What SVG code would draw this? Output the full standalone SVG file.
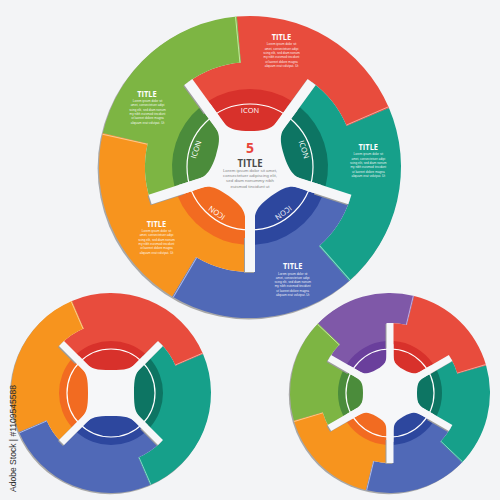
<svg xmlns="http://www.w3.org/2000/svg" xmlns:xlink="http://www.w3.org/1999/xlink" width="500" height="500" viewBox="0 0 500 500">
<defs>
<style>
.bg{fill:#f3f4f6}
.sh{fill:#a8a8a8}
.cd{fill:#f6f7f9}
.red{fill:#e84c3d}.redD{fill:#d8312b}.redL{stroke:#f5a59c}
.teal{fill:#16a08a}.tealD{fill:#0d7563}.tealL{stroke:#86d8c8}
.blue{fill:#5069b7}.blueD{fill:#2d479e}.blueL{stroke:#aebbe8}
.orange{fill:#f7941e}.orangeD{fill:#f26b21}.orangeL{stroke:#fcc88e}
.green{fill:#7db543}.greenD{fill:#4b8c3b}.greenL{stroke:#c6e79e}
.purple{fill:#7f58a8}.purpleD{fill:#6a3f9c}.purpleL{stroke:#c5acdf}
.hl{stroke-width:1;fill:none}
.ring{fill:none;stroke:#ffffff;stroke-width:1.2}
.sp{fill:#f6f7f9}
.sps{fill:#9c9c9c}
.icon{font-family:"Open Sans","Liberation Sans",sans-serif;font-size:7.5px;fill:#ffffff;text-anchor:middle;dominant-baseline:central}
.tt{font-family:"Open Sans","Liberation Sans",sans-serif;font-weight:bold;font-size:9px;fill:#ffffff;text-anchor:middle}
.lo{font-family:"Liberation Sans","Open Sans",sans-serif;font-size:3.1px;fill:#ffffff;fill-opacity:0.9;text-anchor:middle}
.c5{font-family:"Open Sans","Liberation Sans",sans-serif;font-weight:bold;font-size:14px;fill:#e8463a;text-anchor:middle}
.ct{font-family:"Open Sans","Liberation Sans",sans-serif;font-weight:bold;font-size:10.5px;fill:#4a4a4a;text-anchor:middle}
.cl{font-family:"Liberation Sans","Open Sans",sans-serif;font-size:4.4px;fill:#8a8a8a;text-anchor:middle}
.wm{font-family:"Liberation Sans","Open Sans",sans-serif;font-size:8.5px;fill:#2e2e2e}
</style>
<path id="segB" d="M84.95,-61.72 A105,105 0 0 1 104.60,-9.15 L150.42,-13.16 A151,151 0 0 1 59.00,139.00 L41.03,96.65 A105,105 0 0 0 84.95,61.72 L59.87,43.50 A74,74 0 0 0 59.87,-43.50 Z"/>
<path id="petB" d="M65.91,-41.72 L56.33,-34.76 C43.39,-25.35 36,-25 36,0 C36,25 43.39,25.35 56.33,34.76 L65.91,41.72 A78,78 0 0 0 65.91,-41.72 Z"/>
<line id="hlB" x1="41.87" y1="96.29" x2="60.21" y2="138.48"/>
<path id="seg4" d="M49.5,-49.5 A70,70 0 0 1 64.44,-27.35 L92.05,-39.07 A100,100 0 0 1 39.07,92.05 L27.35,64.44 A70,70 0 0 0 49.5,49.5 L34.65,34.65 A49,49 0 0 0 34.65,-34.65 Z"/>
<path id="pet4" d="M39.17,-34.22 L29.34,-24.39 C24.39,-19.44 23,-15 23,0 C23,15 24.39,19.44 29.34,24.39 L39.17,34.22 A52,52 0 0 0 39.17,-34.22 Z"/>
<line id="hl4" x1="27.92" y1="64.19" x2="39.88" y2="91.71"/>
<path id="seg6" d="M60.62,-35 A70,70 0 0 1 67.29,-19.29 L96.13,-27.56 A100,100 0 0 1 71.93,69.47 L50.35,48.63 A70,70 0 0 0 60.62,35 L42.44,24.5 A49,49 0 0 0 42.44,-24.5 Z"/>
<path id="pet6" d="M46.70,-22.92 L36.39,-16.97 C29.46,-12.97 27,-11 27,0 C27,11 29.46,12.97 36.39,16.97 L46.70,22.92 A52,52 0 0 0 46.70,-22.92 Z"/>
<line id="hl6" x1="50.78" y1="48.18" x2="72.54" y2="68.84"/>
</defs>

<rect class="bg" x="0" y="0" width="500" height="500"/>

<!-- ============ BIG WHEEL (5) ============ -->
<g id="wheel-5">
<circle class="sh" cx="248.8" cy="168.3" r="151.2"/>
<circle class="cd" cx="250" cy="167" r="106"/>

<g id="big-red">
<g transform="translate(250,167) rotate(-90)">
<use xlink:href="#segB" class="red"/>
<use xlink:href="#petB" class="redD"/>
<use xlink:href="#hlB" class="hl redL"/>
<text class="icon" transform="translate(57,0) rotate(90)">ICON</text>
</g>
<text class="tt" x="281.5" y="40" textLength="19.5" lengthAdjust="spacingAndGlyphs">TITLE</text>
<text class="lo" x="281.5" y="45.3">Lorem ipsum dolor sit</text>
<text class="lo" x="281.5" y="49.6">amet, consectetuer adipi</text>
<text class="lo" x="281.5" y="54">scing elit, sed diam nonum</text>
<text class="lo" x="281.5" y="58.3">my nibh euismod tincidunt</text>
<text class="lo" x="281.5" y="62.7">ut laoreet dolore magna</text>
<text class="lo" x="281.5" y="67">aliquam erat volutpat. Ut</text>
</g>

<g id="big-teal">
<g transform="translate(250,167) rotate(-18)">
<use xlink:href="#segB" class="teal"/>
<use xlink:href="#petB" class="tealD"/>
<use xlink:href="#hlB" class="hl tealL"/>
<text class="icon" transform="translate(57,0) rotate(90)">ICON</text>
</g>
<text class="tt" x="368.3" y="150" textLength="19.5" lengthAdjust="spacingAndGlyphs">TITLE</text>
<text class="lo" x="368.3" y="155.2">Lorem ipsum dolor sit</text>
<text class="lo" x="368.3" y="159.5">amet, consectetuer adipi</text>
<text class="lo" x="368.3" y="163.9">scing elit, sed diam nonum</text>
<text class="lo" x="368.3" y="168.2">my nibh euismod tincidunt</text>
<text class="lo" x="368.3" y="172.6">ut laoreet dolore magna</text>
<text class="lo" x="368.3" y="176.9">aliquam erat volutpat. Ut</text>
</g>

<g id="big-blue">
<g transform="translate(250,167) rotate(54)">
<use xlink:href="#segB" class="blue"/>
<use xlink:href="#petB" class="blueD"/>
<use xlink:href="#hlB" class="hl blueL"/>
<text class="icon" transform="translate(57,0) rotate(90)">ICON</text>
</g>
<text class="tt" x="292.7" y="269" textLength="19.5" lengthAdjust="spacingAndGlyphs">TITLE</text>
<text class="lo" x="292.7" y="274.5">Lorem ipsum dolor sit</text>
<text class="lo" x="292.7" y="278.8">amet, consectetuer adipi</text>
<text class="lo" x="292.7" y="283.1">scing elit, sed diam nonum</text>
<text class="lo" x="292.7" y="287.4">my nibh euismod tincidunt</text>
<text class="lo" x="292.7" y="291.6">ut laoreet dolore magna</text>
<text class="lo" x="292.7" y="295.9">aliquam erat volutpat. Ut</text>
</g>

<g id="big-orange">
<g transform="translate(250,167) rotate(126)">
<use xlink:href="#segB" class="orange"/>
<use xlink:href="#petB" class="orangeD"/>
<use xlink:href="#hlB" class="hl orangeL"/>
<text class="icon" transform="translate(57,0) rotate(90)">ICON</text>
</g>
<text class="tt" x="156.5" y="226.7" textLength="19.5" lengthAdjust="spacingAndGlyphs">TITLE</text>
<text class="lo" x="156.5" y="231.9">Lorem ipsum dolor sit</text>
<text class="lo" x="156.5" y="236.2">amet, consectetuer adipi</text>
<text class="lo" x="156.5" y="240.5">scing elit, sed diam nonum</text>
<text class="lo" x="156.5" y="244.9">my nibh euismod tincidunt</text>
<text class="lo" x="156.5" y="249.2">ut laoreet dolore magna</text>
<text class="lo" x="156.5" y="253.5">aliquam erat volutpat. Ut</text>
</g>

<g id="big-green">
<g transform="translate(250,167) rotate(198)">
<use xlink:href="#segB" class="green"/>
<use xlink:href="#petB" class="greenD"/>
<use xlink:href="#hlB" class="hl greenL"/>
<text class="icon" transform="translate(57,0) rotate(90)">ICON</text>
</g>
<text class="tt" x="147" y="97.3" textLength="19.5" lengthAdjust="spacingAndGlyphs">TITLE</text>
<text class="lo" x="147.5" y="101.9">Lorem ipsum dolor sit</text>
<text class="lo" x="147.5" y="106.2">amet, consectetuer adipi</text>
<text class="lo" x="147.5" y="110.5">scing elit, sed diam nonum</text>
<text class="lo" x="147.5" y="114.9">my nibh euismod tincidunt</text>
<text class="lo" x="147.5" y="119.2">ut laoreet dolore magna</text>
<text class="lo" x="147.5" y="123.5">aliquam erat volutpat. Ut</text>
</g>

<circle class="ring" cx="250" cy="167" r="63"/>

<g id="spokes-5">
<g transform="translate(249,168)">
<rect class="sps" x="70" y="-5" width="35" height="10" transform="rotate(-126)"/>
<rect class="sps" x="70" y="-5" width="35" height="10" transform="rotate(-54)"/>
<rect class="sps" x="70" y="-5" width="35" height="10" transform="rotate(18)"/>
<rect class="sps" x="70" y="-5" width="35" height="10" transform="rotate(90)"/>
<rect class="sps" x="70" y="-5" width="35" height="10" transform="rotate(162)"/>
</g>
<g transform="translate(250,167)">
<rect class="sp" x="0" y="-5" width="105" height="10" transform="rotate(-126)"/>
<rect class="sp" x="0" y="-5" width="105" height="10" transform="rotate(-54)"/>
<rect class="sp" x="0" y="-5" width="105" height="10" transform="rotate(18)"/>
<rect class="sp" x="0" y="-5" width="105" height="10" transform="rotate(90)"/>
<rect class="sp" x="0" y="-5" width="105" height="10" transform="rotate(162)"/>
</g>
</g>

<g id="big-center">
<text class="c5" x="250" y="152.5">5</text>
<text class="ct" x="250" y="166.8" textLength="25" lengthAdjust="spacingAndGlyphs">TITLE</text>
<text class="cl" x="250" y="172.3">Lorem ipsum dolor sit amet,</text>
<text class="cl" x="250" y="177.4">consectetuer adipiscing elit,</text>
<text class="cl" x="250" y="182.4">sed diam nonummy nibh</text>
<text class="cl" x="250" y="187.5">euismod tincidunt ut</text>
</g>
</g>

<!-- ============ BOTTOM-LEFT WHEEL (4) ============ -->
<g id="wheel-4">
<circle class="sh" cx="110" cy="394.2" r="100"/>
<circle class="cd" cx="111" cy="393" r="71"/>
<g id="w4-red" transform="translate(111,393) rotate(-90)">
<use xlink:href="#seg4" class="red"/><use xlink:href="#pet4" class="redD"/><use xlink:href="#hl4" class="hl redL"/>
</g>
<g id="w4-teal" transform="translate(111,393) rotate(0)">
<use xlink:href="#seg4" class="teal"/><use xlink:href="#pet4" class="tealD"/><use xlink:href="#hl4" class="hl tealL"/>
</g>
<g id="w4-blue" transform="translate(111,393) rotate(90)">
<use xlink:href="#seg4" class="blue"/><use xlink:href="#pet4" class="blueD"/><use xlink:href="#hl4" class="hl blueL"/>
</g>
<g id="w4-orange" transform="translate(111,393) rotate(180)">
<use xlink:href="#seg4" class="orange"/><use xlink:href="#pet4" class="orangeD"/><use xlink:href="#hl4" class="hl orangeL"/>
</g>
<circle class="ring" cx="111" cy="393" r="44"/>
<g id="spokes-4">
<g transform="translate(110,394)">
<rect class="sps" x="46" y="-3.5" width="24" height="7" transform="rotate(-135)"/>
<rect class="sps" x="46" y="-3.5" width="24" height="7" transform="rotate(-45)"/>
<rect class="sps" x="46" y="-3.5" width="24" height="7" transform="rotate(45)"/>
<rect class="sps" x="46" y="-3.5" width="24" height="7" transform="rotate(135)"/>
</g>
<g transform="translate(111,393)">
<rect class="sp" x="0" y="-3.5" width="70" height="7" transform="rotate(-135)"/>
<rect class="sp" x="0" y="-3.5" width="70" height="7" transform="rotate(-45)"/>
<rect class="sp" x="0" y="-3.5" width="70" height="7" transform="rotate(45)"/>
<rect class="sp" x="0" y="-3.5" width="70" height="7" transform="rotate(135)"/>
</g>
</g>
</g>

<!-- ============ BOTTOM-RIGHT WHEEL (6) ============ -->
<g id="wheel-6">
<circle class="sh" cx="388.8" cy="394.2" r="100"/>
<circle class="cd" cx="390" cy="393" r="71"/>
<g id="w6-purple" transform="translate(390,393) rotate(-120)">
<use xlink:href="#seg6" class="purple"/><use xlink:href="#pet6" class="purpleD"/><use xlink:href="#hl6" class="hl purpleL"/>
</g>
<g id="w6-red" transform="translate(390,393) rotate(-60)">
<use xlink:href="#seg6" class="red"/><use xlink:href="#pet6" class="redD"/><use xlink:href="#hl6" class="hl redL"/>
</g>
<g id="w6-teal" transform="translate(390,393) rotate(0)">
<use xlink:href="#seg6" class="teal"/><use xlink:href="#pet6" class="tealD"/><use xlink:href="#hl6" class="hl tealL"/>
</g>
<g id="w6-blue" transform="translate(390,393) rotate(60)">
<use xlink:href="#seg6" class="blue"/><use xlink:href="#pet6" class="blueD"/><use xlink:href="#hl6" class="hl blueL"/>
</g>
<g id="w6-orange" transform="translate(390,393) rotate(120)">
<use xlink:href="#seg6" class="orange"/><use xlink:href="#pet6" class="orangeD"/><use xlink:href="#hl6" class="hl orangeL"/>
</g>
<g id="w6-green" transform="translate(390,393) rotate(180)">
<use xlink:href="#seg6" class="green"/><use xlink:href="#pet6" class="greenD"/><use xlink:href="#hl6" class="hl greenL"/>
</g>
<circle class="ring" cx="390" cy="393" r="44"/>
<g id="spokes-6">
<g transform="translate(389,394)">
<rect class="sps" x="46" y="-3.5" width="24" height="7" transform="rotate(-90)"/>
<rect class="sps" x="46" y="-3.5" width="24" height="7" transform="rotate(-30)"/>
<rect class="sps" x="46" y="-3.5" width="24" height="7" transform="rotate(30)"/>
<rect class="sps" x="46" y="-3.5" width="24" height="7" transform="rotate(90)"/>
<rect class="sps" x="46" y="-3.5" width="24" height="7" transform="rotate(150)"/>
<rect class="sps" x="46" y="-3.5" width="24" height="7" transform="rotate(210)"/>
</g>
<g transform="translate(390,393)">
<rect class="sp" x="0" y="-3.5" width="70" height="7" transform="rotate(-90)"/>
<rect class="sp" x="0" y="-3.5" width="70" height="7" transform="rotate(-30)"/>
<rect class="sp" x="0" y="-3.5" width="70" height="7" transform="rotate(30)"/>
<rect class="sp" x="0" y="-3.5" width="70" height="7" transform="rotate(90)"/>
<rect class="sp" x="0" y="-3.5" width="70" height="7" transform="rotate(150)"/>
<rect class="sp" x="0" y="-3.5" width="70" height="7" transform="rotate(210)"/>
</g>
</g>
</g>

<text class="wm" transform="translate(15.5,492) rotate(-90)" textLength="107" lengthAdjust="spacingAndGlyphs">Adobe Stock | #1109545588</text>
</svg>
